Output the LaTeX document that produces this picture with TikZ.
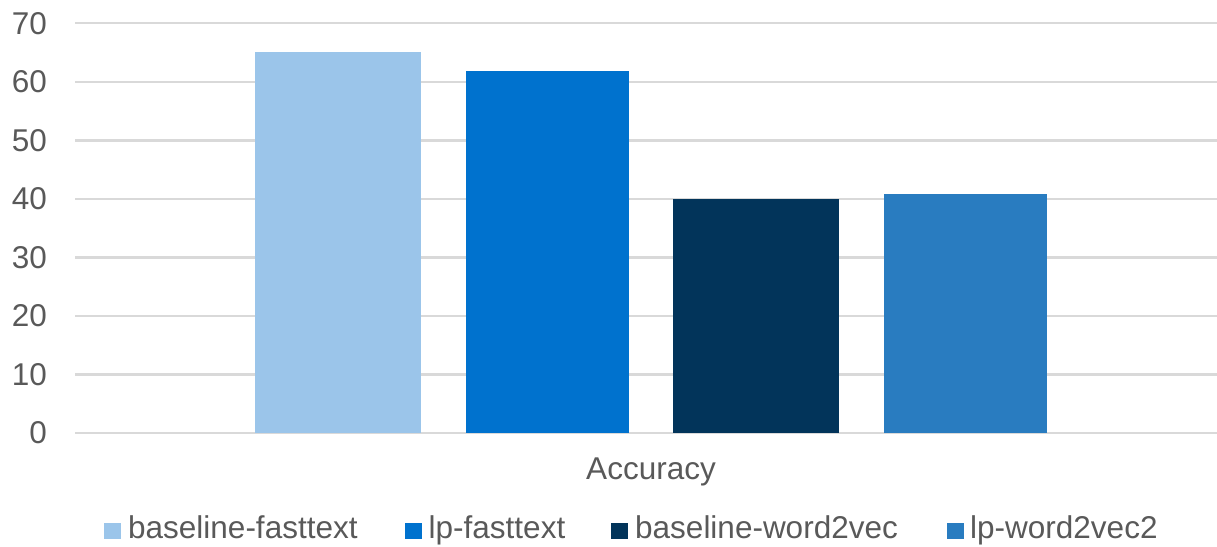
\documentclass[tikz,border=0pt]{standalone}
\usepackage{fontspec}
\setmainfont{Liberation Sans}
\definecolor{axistext}{HTML}{595959}
\definecolor{gridgray}{HTML}{D9D9D9}
\definecolor{barA}{HTML}{9BC5EA}
\definecolor{barB}{HTML}{0072CE}
\definecolor{barC}{HTML}{02345A}
\definecolor{barD}{HTML}{297CC0}
\begin{document}
\begin{tikzpicture}[x=1pt,y=-1pt,
  lbl/.style={text=axistext,inner sep=0pt,font=\fontsize{31.5}{36}\selectfont},
  grid/.style={draw=gridgray,line width=2.4pt},
]
\useasboundingbox (0,0) rectangle (1217,546);
% value v sits at y = 432.8 - 5.85 v
\foreach \v in {0,10,...,70}{
  \draw[grid] (75,{432.8-5.85*\v}) -- (1217,{432.8-5.85*\v});
  \node[lbl,anchor=east] (tick\v) at (47,{432.8-5.85*\v}) {\v};
}
% bars
\fill[barA] (255,432.8) rectangle (421,{432.8-5.85*65.07});
\fill[barB] (466,432.8) rectangle (629,{432.8-5.85*61.85});
\fill[barC] (673,432.8) rectangle (839,{432.8-5.85*39.97});
\fill[barD] (884,432.8) rectangle (1047,{432.8-5.85*40.82});
% category label
\node[lbl,anchor=base] (cat) at (651,479.5) {Accuracy};
% legend
\fill[barA] (104,522.5) rectangle (120.5,539);
\node[lbl,anchor=base west] (legA) at (128,538.5) {baseline-fasttext};
\fill[barB] (405,522.5) rectangle (421.5,539);
\node[lbl,anchor=base west] (legB) at (428.5,538.5) {lp-fasttext};
\fill[barC] (611,522.5) rectangle (627.5,539);
\node[lbl,anchor=base west] (legC) at (635,538.5) {baseline-word2vec};
\fill[barD] (947,522.5) rectangle (963.5,539);
\node[lbl,anchor=base west] (legD) at (970,538.5) {lp-word2vec2};
\end{tikzpicture}
\end{document}
